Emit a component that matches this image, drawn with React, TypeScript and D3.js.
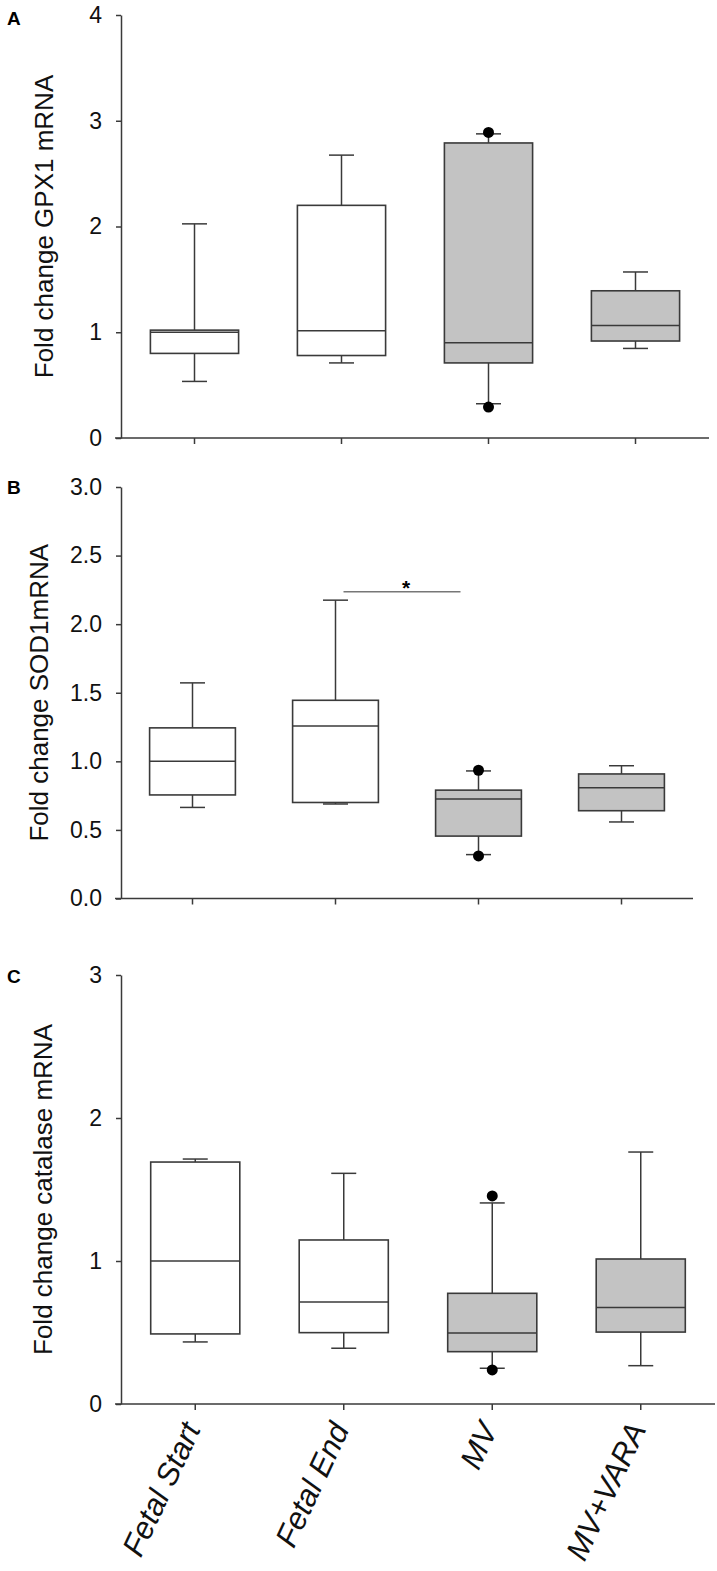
import { useEffect, useRef } from "react";
import * as d3 from "d3";

// groups and colours
const categories = ["Fetal Start", "Fetal End", "MV", "MV+VARA"];
const boxFill = ["#ffffff", "#ffffff", "#c3c3c3", "#c3c3c3"];

// panel A - GPX1
const gpxLow = [0.535, 0.71, 0.324, 0.847];
const gpxQ1 = [0.8, 0.78, 0.71, 0.917];
const gpxMedian = [1.0, 1.014, 0.9, 1.064];
const gpxQ3 = [1.02, 2.2, 2.79, 1.392];
const gpxHigh = [2.025, 2.675, 2.876, 1.57];
const gpxOutliers = [[], [], [2.89, 0.293], []];
const gpxTicks = [0, 1, 2, 3, 4];

// panel B - SOD1
const sodLow = [0.664, 0.689, 0.32, 0.558];
const sodQ1 = [0.755, 0.7, 0.455, 0.64];
const sodMedian = [1.0, 1.258, 0.725, 0.808];
const sodQ3 = [1.244, 1.445, 0.79, 0.908];
const sodHigh = [1.572, 2.175, 0.93, 0.968];
const sodOutliers = [[], [], [0.935, 0.31], []];
const sodTicks = [0, 0.5, 1, 1.5, 2, 2.5, 3];

// panel C - catalase
const catLow = [0.434, 0.39, 0.25, 0.268];
const catQ1 = [0.49, 0.499, 0.366, 0.503];
const catMedian = [1.0, 0.713, 0.497, 0.674];
const catQ3 = [1.692, 1.147, 0.774, 1.014];
const catHigh = [1.713, 1.613, 1.406, 1.762];
const catOutliers = [[], [], [1.455, 0.238], []];
const catTicks = [0, 1, 2, 3];

const panels = [
  {
    letter: "A", label: "Fold change GPX1 mRNA", low: gpxLow, q1: gpxQ1, med: gpxMedian,
    q3: gpxQ3, high: gpxHigh, out: gpxOutliers, ticks: gpxTicks, fmt: "d",
    top: 15, bottom: 438, right: 709, labelX: 53, letterY: 25,
  },
  {
    letter: "B", label: "Fold change SOD1mRNA", low: sodLow, q1: sodQ1, med: sodMedian,
    q3: sodQ3, high: sodHigh, out: sodOutliers, ticks: sodTicks, fmt: ".1f",
    top: 487, bottom: 898.5, right: 693, labelX: 48, letterY: 494,
  },
  {
    letter: "C", label: "Fold change catalase mRNA", low: catLow, q1: catQ1, med: catMedian,
    q3: catQ3, high: catHigh, out: catOutliers, ticks: catTicks, fmt: "d",
    top: 975, bottom: 1404, right: 715, labelX: 52, letterY: 983,
  },
];

const left = 121;
const font = "'Liberation Sans', Arial, sans-serif";
const lineColor = "#3a3a3a";

export default function App() {
  const ref = useRef(null);

  useEffect(() => {
    const svg = d3.select(ref.current);
    svg.selectAll("*").remove();

    panels.forEach((p, pi) => {
      const g = svg.append("g");
      const y = d3.scaleLinear()
        .domain([0, p.ticks[p.ticks.length - 1]])
        .range([p.bottom, p.top]);
      const x = d3.scaleBand()
        .domain(categories)
        .range([left, p.right])
        .paddingInner(0.4)
        .paddingOuter(0.2);
      const bw = x.bandwidth();
      const cx = (c) => x(c) + bw / 2;

      // y axis
      const ya = g.append("g")
        .attr("transform", `translate(${left},0)`)
        .call(d3.axisLeft(y).tickValues(p.ticks).tickFormat(d3.format(p.fmt)).tickSize(5).tickSizeOuter(0).tickPadding(14));
      ya.select(".domain").attr("stroke", lineColor).attr("stroke-width", 1.5);
      ya.selectAll(".tick line").attr("stroke", lineColor).attr("stroke-width", 1.5);
      ya.selectAll(".tick text")
        .attr("font-family", font).attr("font-size", 23).attr("fill", "#111");

      // x axis
      const xa = g.append("g")
        .attr("transform", `translate(0,${p.bottom})`)
        .call(d3.axisBottom(x).tickSize(6).tickSizeOuter(0).tickFormat(() => ""));
      xa.select(".domain").attr("stroke", lineColor).attr("stroke-width", 1.5)
        .attr("d", `M${left - 6},0H${p.right}`);
      xa.selectAll(".tick line").attr("stroke", lineColor).attr("stroke-width", 1.5);

      // y label
      g.append("text")
        .attr("transform", `translate(${p.labelX},${(p.top + p.bottom) / 2}) rotate(-90)`)
        .attr("text-anchor", "middle")
        .attr("font-family", font).attr("font-size", 26).attr("fill", "#111")
        .text(p.label);

      // panel letter
      g.append("text")
        .attr("x", 7).attr("y", p.letterY)
        .attr("font-family", font).attr("font-size", 19).attr("font-weight", "bold")
        .text(p.letter);

      const boxes = g.append("g");
      categories.forEach((c, i) => {
        const xc = cx(c);
        const capW = 25;
        const s = { stroke: lineColor, "stroke-width": 1.5 };
        const line = (x1, y1, x2, y2) => {
          const l = boxes.append("line").attr("x1", x1).attr("y1", y1).attr("x2", x2).attr("y2", y2);
          Object.entries(s).forEach(([k, v]) => l.attr(k, v));
        };
        // whiskers
        line(xc, y(p.high[i]), xc, y(p.q3[i]));
        line(xc, y(p.q1[i]), xc, y(p.low[i]));
        line(xc - capW / 2, y(p.high[i]), xc + capW / 2, y(p.high[i]));
        line(xc - capW / 2, y(p.low[i]), xc + capW / 2, y(p.low[i]));
        // box
        boxes.append("rect")
          .attr("x", x(c)).attr("width", bw)
          .attr("y", y(p.q3[i])).attr("height", y(p.q1[i]) - y(p.q3[i]))
          .attr("fill", boxFill[i]).attr("stroke", lineColor).attr("stroke-width", 1.6);
        line(x(c), y(p.med[i]), x(c) + bw, y(p.med[i]));
        // outliers
        p.out[i].forEach((v) => {
          boxes.append("circle").attr("cx", xc).attr("cy", y(v)).attr("r", 5.5).attr("fill", "#000");
        });
      });

      // significance bar (panel B)
      if (pi === 1) {
        const sy = y(2.236);
        const x1 = cx("Fetal End") + 8;
        const x2 = cx("MV") - 18;
        g.append("line").attr("x1", x1).attr("x2", x2).attr("y1", sy).attr("y2", sy)
          .attr("stroke", "#777").attr("stroke-width", 1.5);
        g.append("text")
          .attr("x", (x1 + x2) / 2 + 4).attr("y", sy + 3)
          .attr("text-anchor", "middle")
          .attr("font-family", font).attr("font-size", 21).attr("font-weight", "bold")
          .text("*");
      }

      // category labels under the last panel
      if (pi === panels.length - 1) {
        categories.forEach((c) => {
          g.append("text")
            .attr("transform", `translate(${cx(c) + 6},${p.bottom + 25}) rotate(-65)`)
            .attr("text-anchor", "end")
            .attr("font-family", font).attr("font-size", 31).attr("font-style", "italic")
            .attr("fill", "#111")
            .text(c);
        });
      }
    });
  }, []);

  return (
    <svg
      ref={ref}
      width={717}
      height={1571}
      style={{ position: "absolute", left: 0, top: 0, background: "#fff" }}
    />
  );
}
